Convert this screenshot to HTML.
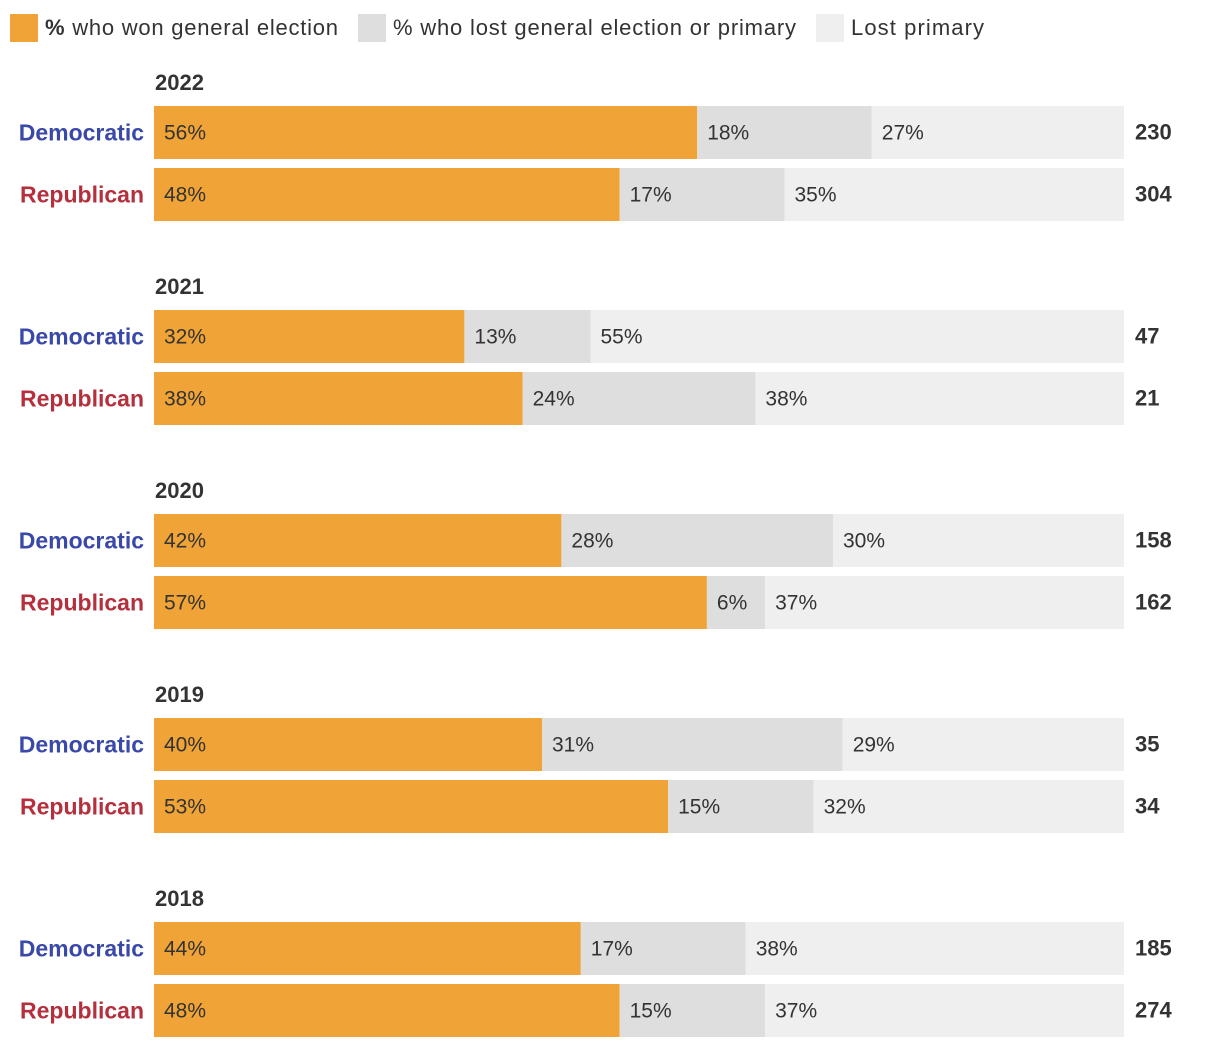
<!DOCTYPE html>
<html><head><meta charset="utf-8"><style>
body{margin:0;background:#fff;font-family:"Liberation Sans",sans-serif}
</style></head><body>
<svg id="chart" width="1220" height="1050" xmlns="http://www.w3.org/2000/svg" font-family="Liberation Sans, sans-serif">
<g>
<rect x="10" y="14" width="28" height="28" fill="#f0a336"/>
<text x="45" y="35" font-size="22" fill="#333" textLength="293" lengthAdjust="spacing"><tspan font-weight="bold">%</tspan> who won general election</text>
<rect x="358" y="14" width="28" height="28" fill="#dedede"/>
<text x="393" y="35" font-size="22" fill="#333" textLength="403" lengthAdjust="spacing">% who lost general election or primary</text>
<rect x="816" y="14" width="28" height="28" fill="#efefef"/>
<text x="851" y="35" font-size="22" fill="#333" textLength="133" lengthAdjust="spacing">Lost primary</text>
</g>
<g id="bars"></g>
</svg>
<script>
const years=["2022","2021","2020","2019","2018"];
const parties=["Democratic","Republican"];
const wonDem=[56,32,42,40,44];
const wonRep=[48,38,57,53,48];
const lostDem=[18,13,28,31,17];
const lostRep=[17,24,6,15,15];
const primDem=[27,55,30,29,38];
const primRep=[35,38,37,32,37];
const totalDem=[230,47,158,35,185];
const totalRep=[304,21,162,34,274];

const NS="http://www.w3.org/2000/svg";
const g=document.getElementById("bars");
const x0=154,W=970;
const xs=v=>x0+v/100*W;
function mk(tag,attrs){const e=document.createElementNS(NS,tag);for(const k in attrs)e.setAttribute(k,attrs[k]);g.appendChild(e);return e;}
years.forEach((yr,i)=>{
  const gy=i*204;
  const t=mk("text",{x:155,y:90+gy,"font-size":22,"font-weight":"bold",fill:"#333"});
  t.textContent=yr;
  
  
  parties.forEach((p,j)=>{
    const won=j?wonRep[i]:wonDem[i], lost=j?lostRep[i]:lostDem[i], prim=j?primRep[i]:primDem[i], tot=j?totalRep[i]:totalDem[i];
    const y=106+gy+j*62, h=53, cy=y+h/2+7;
    const lab=mk("text",{x:144,y:cy+1,"font-size":23,"font-weight":"bold","text-anchor":"end",fill:j?"#b5303c":"#3a48a8"});
    lab.textContent=p;
    
    
    const segs=[[0,won,"#f0a336",won,"won"],[won,won+lost,"#dedede",lost,"lost"],[won+lost,100,"#efefef",prim,"primary"]];
    segs.forEach(s=>{
      const r=mk("rect",{x:xs(s[0]),y:y,width:Math.max(0,xs(s[1])-xs(s[0])),height:h,fill:s[2]});
      
      
      const tx=mk("text",{x:xs(s[0])+10,y:cy,"font-size":21,fill:"#333"});
      tx.textContent=s[3]+"%";
      
      
    });
    const tt=mk("text",{x:1135,y:cy,"font-size":22,"font-weight":"bold",fill:"#333"});
    tt.textContent=tot;
    
    
  });
});
</script>
</body></html>
